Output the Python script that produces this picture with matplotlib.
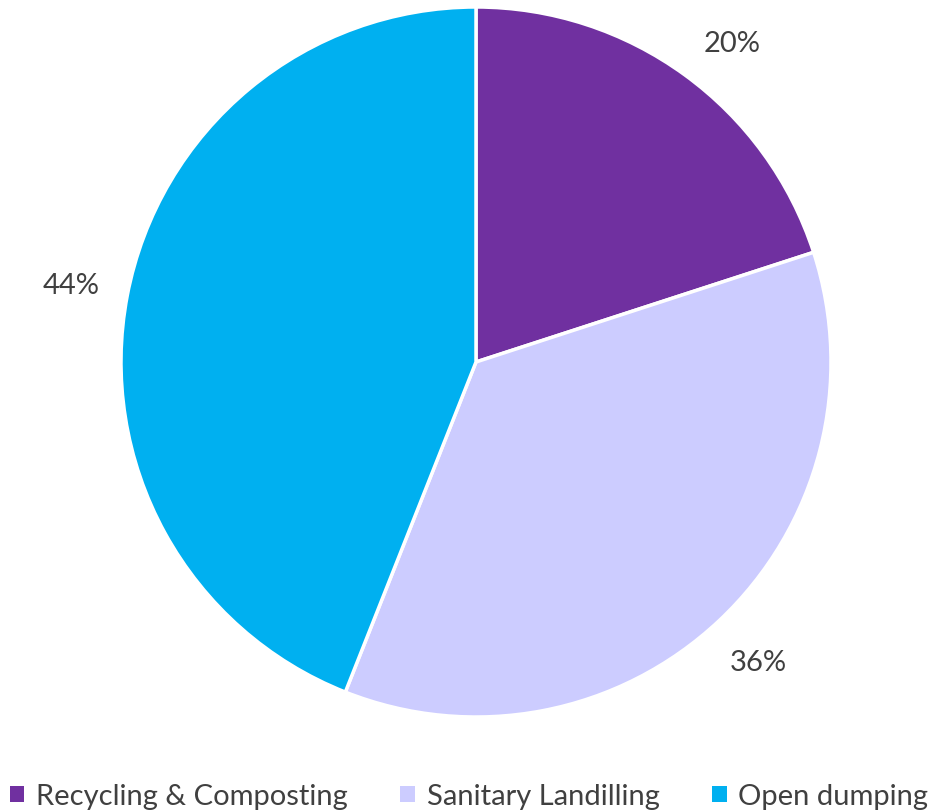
import matplotlib
matplotlib.use("Agg")
import matplotlib.pyplot as plt
from matplotlib.patches import Patch

categories = ["Recycling & Composting", "Sanitary Landilling", "Open dumping"]
values = [20, 36, 44]
colors = ["#7030A0", "#CCCCFF", "#00B0F0"]

plt.rcParams['font.family'] = ['Lato', 'DejaVu Sans']
text_color = "#404040"

fig = plt.figure(figsize=(9.38, 8.12), dpi=100)
ax = fig.add_axes([121/938, 94/812, 710/938, 710/812])

wedges, texts = ax.pie(
    values, colors=colors, startangle=90, counterclock=False,
    labels=[f"{v}%" for v in values], labeldistance=1.16,
    wedgeprops=dict(edgecolor="white", linewidth=2.5),
    textprops=dict(color=text_color, fontsize=21),
)
for t in texts:
    t.set_ha("center")
    t.set_va("center")
# nudge first label slightly along the arc like the reference
x0, y0 = texts[0].get_position()
texts[0].set_position((x0 + 0.04, y0 - 0.04))
ax.set_xlim(-1, 1)
ax.set_ylim(-1, 1)

handles = [Patch(facecolor=c, edgecolor="none") for c in colors]
fig.legend(handles, categories, loc="center", bbox_to_anchor=(0.5, 0.018),
           ncol=3, frameon=False, fontsize=21, labelcolor=text_color,
           handlelength=0.5, handleheight=0.5, handletextpad=0.4,
           columnspacing=1.8)

fig.savefig("out.png", dpi=100)
